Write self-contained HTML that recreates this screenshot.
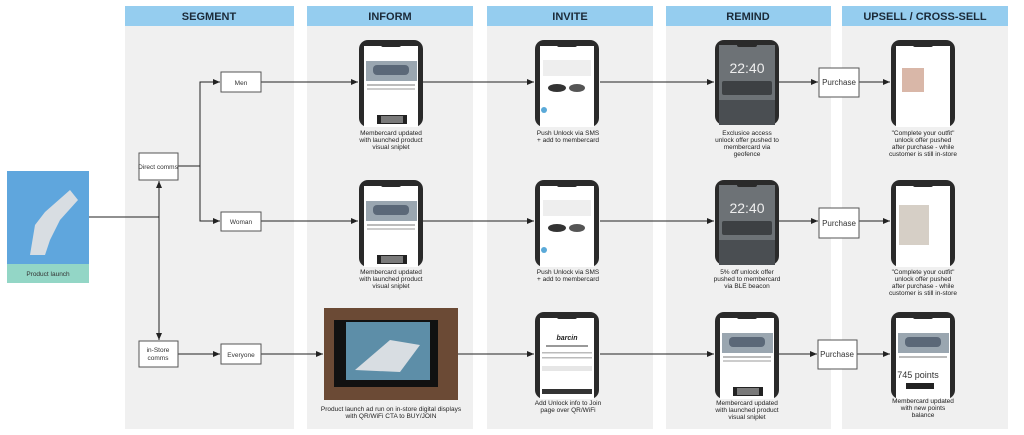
<!DOCTYPE html>
<html><head><meta charset="utf-8"><style>
html,body{margin:0;padding:0;background:#fff;}
svg{display:block;font-family:"Liberation Sans",sans-serif;}
</style></head><body>
<svg width="1024" height="435" viewBox="0 0 1024 435" xmlns="http://www.w3.org/2000/svg">
<defs>
<marker id="a" markerWidth="8" markerHeight="8" refX="7" refY="4" orient="auto" markerUnits="userSpaceOnUse"><path d="M0,1 L7,4 L0,7z" fill="#222"/></marker>
<g id="ph">
<rect x="0" y="0" width="64" height="87" rx="9" fill="#2a2a2a"/>
<rect x="5" y="6" width="54" height="81" fill="#fff"/>
<rect x="22" y="2" width="20" height="5" rx="2" fill="#2a2a2a"/>
</g>
<g id="card">
<use href="#ph"/>
<rect x="7" y="21" width="51" height="20" fill="#9aa6b0"/>
<rect x="14" y="25" width="36" height="10" fill="#5b6878" rx="4"/>
<rect x="8" y="44" width="48" height="2" fill="#bbb"/>
<rect x="8" y="48" width="48" height="2" fill="#ccc"/>
<rect x="18" y="75" width="30" height="9" fill="#222"/>
<rect x="22" y="76" width="22" height="7" fill="#fff" opacity=".4"/>
</g>
<g id="lock">
<rect x="0" y="0" width="64" height="85" rx="9" fill="#2a2a2a"/>
<rect x="4" y="5" width="56" height="80" fill="#6d7276"/>
<rect x="4" y="60" width="56" height="25" fill="#4a4e52"/>
<rect x="22" y="2" width="20" height="5" rx="2" fill="#2a2a2a"/>
<text x="32" y="33" font-size="14" fill="#eee" text-anchor="middle">22:40</text>
<rect x="7" y="41" width="50" height="14" fill="#3d4043" rx="2"/>
</g>
<g id="sms">
<use href="#ph"/>
<rect x="8" y="20" width="48" height="16" fill="#eee"/>
<ellipse cx="22" cy="48" rx="9" ry="4" fill="#333"/>
<ellipse cx="42" cy="48" rx="8" ry="4" fill="#555"/>
<circle cx="9" cy="70" r="3" fill="#5aa9d8"/>
</g>
</defs>
<g fill="#f0f0f0">
<rect x="125" y="26" width="169" height="403"/>
<rect x="307" y="26" width="166" height="403"/>
<rect x="487" y="26" width="166" height="403"/>
<rect x="666" y="26" width="165" height="403"/>
<rect x="842" y="26" width="166" height="403"/>
</g>
<g fill="#95cdef">
<rect x="125" y="6" width="169" height="20"/>
<rect x="307" y="6" width="166" height="20"/>
<rect x="487" y="6" width="166" height="20"/>
<rect x="666" y="6" width="165" height="20"/>
<rect x="842" y="6" width="166" height="20"/>
</g>
<g font-size="11" font-weight="bold" fill="#1b2a38" text-anchor="middle">
<text x="209" y="20">SEGMENT</text><text x="390" y="20">INFORM</text><text x="570" y="20">INVITE</text><text x="748" y="20">REMIND</text><text x="925" y="20">UPSELL / CROSS-SELL</text>
</g>
<rect x="7" y="171" width="82" height="112" fill="#5fa6dd"/>
<path d="M30,255 L35,225 L45,212 L70,190 L78,200 L60,220 L50,240 L45,255z" fill="#d8dde2"/>
<rect x="7" y="264" width="82" height="19" fill="#93d6c6"/>
<text x="48" y="276" font-size="6.5" text-anchor="middle" fill="#333">Product launch</text>
<g stroke="#222" stroke-width="1" fill="none">
<path d="M89,217 H159"/>
<path d="M159,217 V181" marker-end="url(#a)"/>
<path d="M159,217 V340" marker-end="url(#a)"/>
<path d="M178,166 H200 V82 H220" marker-end="url(#a)"/>
<path d="M200,166 V221 H220" marker-end="url(#a)"/>
<path d="M178,354 H220" marker-end="url(#a)"/>
<path d="M261,82 H358" marker-end="url(#a)"/>
<path d="M261,221 H358" marker-end="url(#a)"/>
<path d="M261,354 H323" marker-end="url(#a)"/>
<path d="M423,82 H534" marker-end="url(#a)"/>
<path d="M423,221 H534" marker-end="url(#a)"/>
<path d="M458,354 H534" marker-end="url(#a)"/>
<path d="M600,82 H714" marker-end="url(#a)"/>
<path d="M600,221 H714" marker-end="url(#a)"/>
<path d="M600,354 H714" marker-end="url(#a)"/>
<path d="M779,82 H818" marker-end="url(#a)"/>
<path d="M779,221 H818" marker-end="url(#a)"/>
<path d="M779,354 H817" marker-end="url(#a)"/>
<path d="M859,82 H890" marker-end="url(#a)"/>
<path d="M859,221 H890" marker-end="url(#a)"/>
<path d="M857,354 H890" marker-end="url(#a)"/>
</g>
<g fill="#fff" stroke="#555" stroke-width="1">
<rect x="221" y="72" width="40" height="20"/>
<rect x="139" y="153" width="39" height="27"/>
<rect x="221" y="212" width="40" height="19"/>
<rect x="139" y="341" width="39" height="26"/>
<rect x="221" y="344" width="40" height="20"/>
<rect x="819" y="68" width="40" height="29"/>
<rect x="819" y="208" width="40" height="30"/>
<rect x="818" y="340" width="39" height="29"/>
</g>
<g font-size="6.5" fill="#333" text-anchor="middle">
<text x="241" y="85">Men</text>
<text x="158" y="169">Direct comms</text>
<text x="241" y="224">Woman</text>
<text x="158" y="352">in-Store</text><text x="158" y="360">comms</text>
<text x="241" y="357">Everyone</text>
</g>
<g font-size="8" fill="#333" text-anchor="middle">
<text x="839" y="85">Purchase</text><text x="839" y="226">Purchase</text><text x="837" y="357">Purchase</text>
</g>
<use href="#card" x="359" y="40"/>
<use href="#card" x="359" y="180"/>
<use href="#sms" x="535" y="40"/>
<use href="#sms" x="535" y="180"/>
<use href="#ph" x="535" y="312"/>
<text x="567" y="340" font-size="7" font-style="italic" font-weight="bold" text-anchor="middle" fill="#222">barcin</text>
<rect x="546" y="345" width="42" height="2" fill="#999"/>
<rect x="542" y="352" width="50" height="1.5" fill="#bbb"/>
<rect x="542" y="357" width="50" height="1.5" fill="#bbb"/>
<rect x="542" y="366" width="50" height="5" fill="#e6e6e6"/>
<rect x="542" y="389" width="50" height="5" fill="#333"/>
<use href="#lock" x="715" y="40"/>
<use href="#lock" x="715" y="180"/>
<use href="#card" x="715" y="312"/>
<use href="#ph" x="891" y="40"/>
<rect x="902" y="68" width="22" height="24" fill="#d9b7a8"/>
<use href="#ph" x="891" y="180"/>
<rect x="899" y="205" width="30" height="40" fill="#d6cfc6"/>
<use href="#ph" x="891" y="312"/>
<rect x="898" y="333" width="51" height="20" fill="#9aa6b0"/>
<rect x="905" y="337" width="36" height="10" fill="#5b6878" rx="4"/>
<rect x="899" y="356" width="48" height="2" fill="#bbb"/>
<text x="918" y="378" font-size="9" text-anchor="middle" fill="#333">745 points</text>
<rect x="906" y="383" width="28" height="6" fill="#222"/>
<rect x="324" y="308" width="134" height="92" fill="#6b4a35"/>
<rect x="334" y="320" width="104" height="67" fill="#111"/>
<rect x="346" y="322" width="84" height="58" fill="#5d8ea8"/>
<path d="M355,370 L390,340 L420,345 L400,372z" fill="#d8dde2"/>
<g font-size="6.5" fill="#222" text-anchor="middle">
<text x="391" y="135">Membercard updated</text><text x="391" y="142">with launched product</text><text x="391" y="149">visual sniplet</text>
<text x="391" y="274">Membercard updated</text><text x="391" y="281">with launched product</text><text x="391" y="288">visual sniplet</text>
<text x="391" y="411">Product launch ad run on in-store digital displays</text><text x="391" y="418">with QR/WiFi CTA to BUY/JOIN</text>
<text x="568" y="135">Push Unlock via SMS</text><text x="568" y="142">+ add to membercard</text>
<text x="568" y="274">Push Unlock via SMS</text><text x="568" y="281">+ add to membercard</text>
<text x="568" y="405">Add Unlock info to Join</text><text x="568" y="412">page over QR/WiFi</text>
<text x="747" y="135">Exclusice access</text><text x="747" y="142">unlock offer pushed to</text><text x="747" y="149">membercard via</text><text x="747" y="156">geofence</text>
<text x="747" y="274">5% off unlock offer</text><text x="747" y="281">pushed to membercard</text><text x="747" y="288">via BLE beacon</text>
<text x="747" y="405">Membercard updated</text><text x="747" y="412">with launched product</text><text x="747" y="419">visual sniplet</text>
<text x="923" y="135">"Complete your outfit"</text><text x="923" y="142">unlock offer pushed</text><text x="923" y="149">after purchase - while</text><text x="923" y="156">customer is still in-store</text>
<text x="923" y="274">"Complete your outfit"</text><text x="923" y="281">unlock offer pushed</text><text x="923" y="288">after purchase - while</text><text x="923" y="295">customer is still in-store</text>
<text x="923" y="403">Membercard updated</text><text x="923" y="410">with new points</text><text x="923" y="417">balance</text>
</g>
</svg>
</body></html>
